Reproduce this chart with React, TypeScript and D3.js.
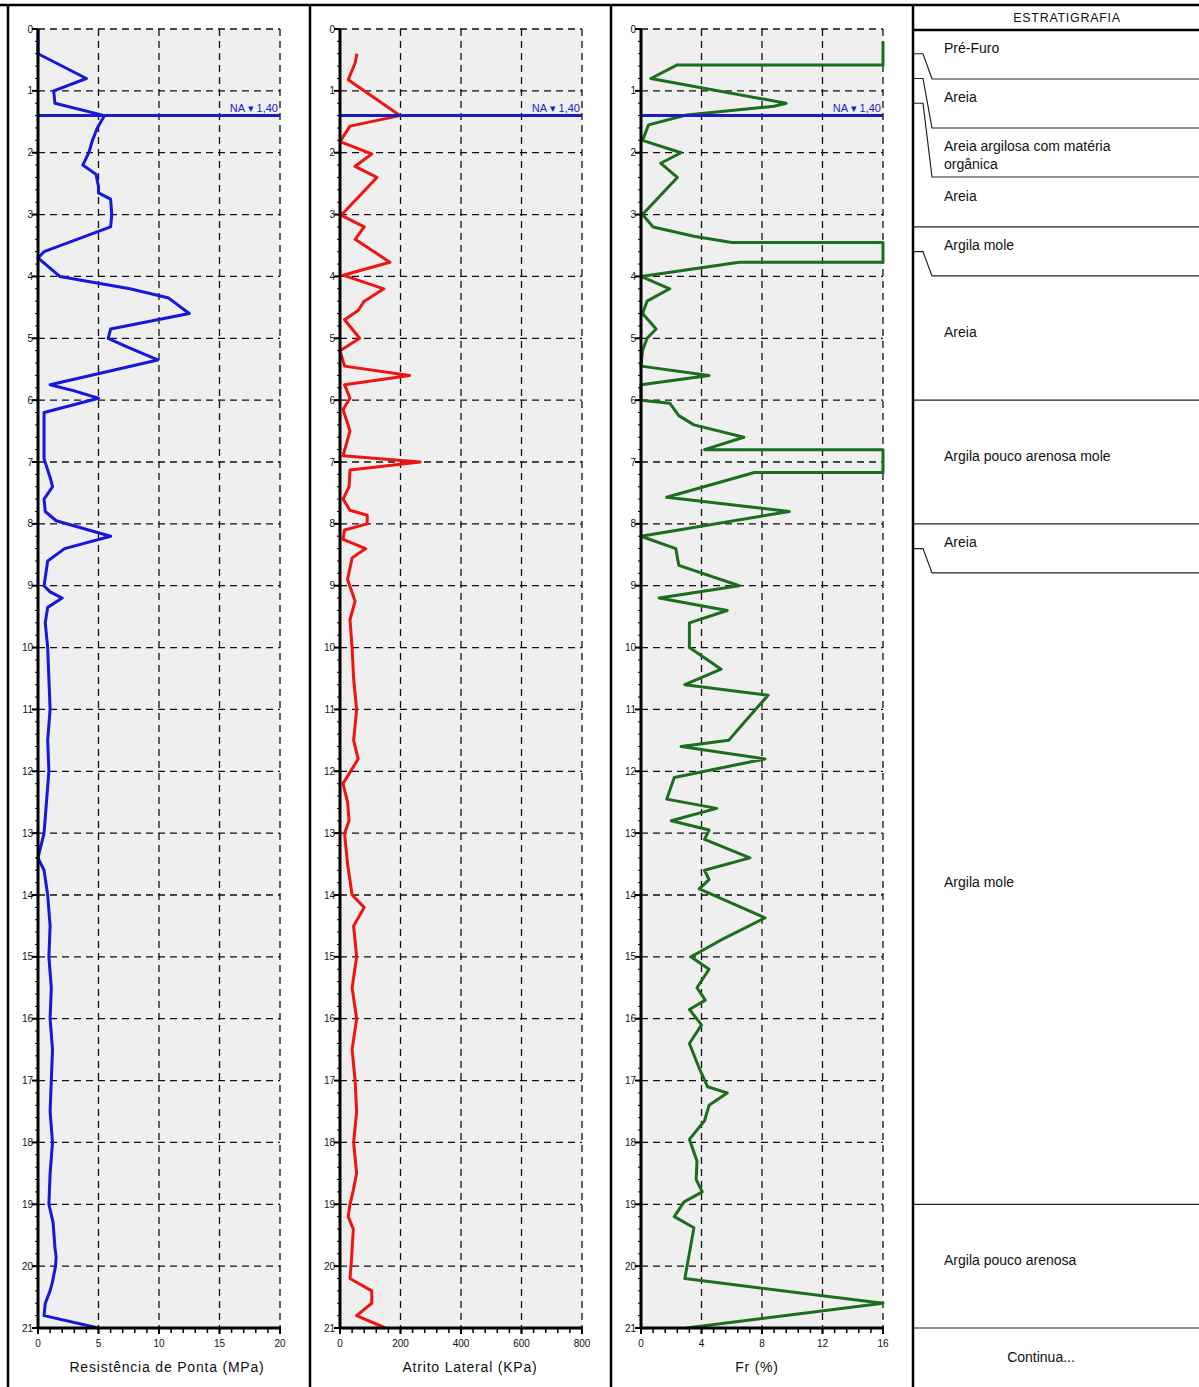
import React from "react";
import * as d3 from "d3";

// ---------- DATA ----------
const qcDepth = [0, 0.4, 0.8, 1.0, 1.2, 1.4, 1.6, 1.8, 2.0, 2.2, 2.35, 2.55, 2.65, 2.75, 3.0, 3.2, 3.6, 3.7, 4.0, 4.2, 4.35, 4.6, 4.85, 5.0, 5.15, 5.35, 5.55, 5.75, 5.85, 5.97, 6.2, 6.95, 7.25, 7.4, 7.6, 7.8, 7.95, 8.2, 8.4, 8.6, 9.0, 9.1, 9.2, 9.35, 9.6, 10.0, 10.5, 11.0, 11.5, 12.0, 12.5, 13.0, 13.4, 13.6, 14.0, 14.5, 15.0, 15.5, 16.0, 16.5, 17.0, 17.5, 18.0, 18.5, 19.0, 19.3, 19.7, 19.85, 20.0, 20.25, 20.4, 20.6, 20.8, 21.0];
const qcValue = [0, 0, 4.0, 1.3, 1.4, 5.5, 4.9, 4.5, 4.2, 3.7, 4.8, 5.0, 5.0, 6.0, 6.1, 6.0, 0.5, 0, 1.8, 7.6, 10.8, 12.5, 6.0, 5.8, 7.5, 9.9, 5.5, 1.0, 3.0, 5.0, 0.5, 0.5, 1.0, 1.2, 0.5, 0.6, 1.5, 6.0, 2.2, 0.8, 0.5, 1.0, 2.0, 0.8, 0.6, 0.8, 0.9, 1.0, 0.8, 0.9, 0.7, 0.5, 0.0, 0.5, 0.8, 1.0, 0.9, 1.1, 1.0, 1.2, 1.1, 1.0, 1.2, 1.0, 0.9, 1.25, 1.4, 1.5, 1.45, 1.2, 1.0, 0.6, 0.5, 5.0];

const fsDepth = [0.4, 0.55, 0.82, 1.4, 1.57, 1.82, 2.02, 2.22, 2.4, 2.66, 2.98, 3.0, 3.2, 3.4, 3.77, 3.98, 4.2, 4.4, 4.55, 4.7, 5.0, 5.2, 5.45, 5.6, 5.75, 5.97, 6.15, 6.5, 6.9, 7.0, 7.13, 7.4, 7.6, 7.78, 7.86, 8.0, 8.1, 8.25, 8.4, 8.55, 8.9, 9.25, 9.55, 10.0, 10.5, 11.0, 11.5, 11.8, 12.2, 12.5, 12.8, 13.0, 13.5, 14.0, 14.2, 14.5, 15.0, 15.5, 16.0, 16.5, 17.0, 17.5, 18.0, 18.5, 18.77, 19.0, 19.2, 19.4, 19.9, 20.2, 20.4, 20.6, 20.8, 21.0];
const fsValue = [56, 50, 27, 198, 33, 0, 105, 50, 122, 72, 10, 0, 80, 50, 165, 10, 145, 80, 60, 15, 65, 0, 15, 230, 15, 33, 10, 33, 10, 265, 33, 30, 10, 33, 90, 90, 15, 10, 85, 40, 25, 50, 33, 40, 45, 55, 45, 60, 10, 25, 30, 15, 25, 40, 80, 45, 55, 40, 55, 40, 50, 55, 45, 55, 44, 33, 27, 44, 38, 33, 105, 105, 55, 150];

const frDepth = [0.2, 0.58, 0.58, 0.8, 1.2, 1.25, 1.39, 1.55, 1.8, 2.0, 2.17, 2.4, 3.0, 3.2, 3.35, 3.45, 3.45, 3.77, 3.77, 4.0, 4.2, 4.4, 4.6, 4.85, 5.0, 5.2, 5.45, 5.6, 5.75, 6.0, 6.05, 6.25, 6.4, 6.6, 6.8, 6.8, 7.17, 7.17, 7.57, 7.8, 8.2, 8.4, 8.67, 9.0, 9.2, 9.4, 9.6, 10.0, 10.35, 10.6, 10.77, 11.3, 11.5, 11.6, 11.8, 12.1, 12.45, 12.6, 12.8, 12.95, 13.1, 13.4, 13.6, 13.75, 13.9, 14.37, 14.7, 15.0, 15.2, 15.5, 15.7, 15.85, 16.1, 16.4, 16.8, 17.1, 17.2, 17.4, 17.65, 17.95, 18.3, 18.6, 18.8, 18.96, 19.2, 19.38, 20.2, 20.6, 21.0];
const frValue = [16, 16, 2.4, 0.65, 9.6, 8.8, 3.0, 0.5, 0.1, 2.65, 1.3, 2.4, 0.1, 0.8, 3.5, 6.0, 16, 16, 6.5, 0, 1.9, 0.4, 0.1, 1.0, 0.4, 0.1, 0, 4.5, 0, 0, 1.9, 2.5, 3.5, 6.8, 4.2, 16, 16, 7.5, 1.7, 9.8, 0, 2.3, 2.5, 6.5, 1.2, 5.7, 3.2, 3.2, 5.3, 2.9, 8.4, 6.5, 5.8, 2.65, 8.2, 2.2, 1.7, 5.0, 2.0, 4.5, 4.2, 7.2, 4.2, 4.5, 3.85, 8.2, 5.5, 3.3, 4.5, 3.7, 4.25, 3.2, 4.0, 3.2, 3.85, 4.4, 5.7, 4.5, 4.2, 3.2, 3.7, 3.65, 4.05, 2.85, 2.2, 3.5, 2.9, 16, 3.0];

const waterDepth = 1.4;
const waterLabel = "NA ▾ 1,40";

const qcTicks = [0, 5, 10, 15, 20];
const fsTicks = [0, 200, 400, 600, 800];
const frTicks = [0, 4, 8, 12, 16];
const depthTicks = d3.range(0, 22, 1);

const strataLabels = [
  ["Pré-Furo"],
  ["Areia"],
  ["Areia argilosa com matéria", "orgânica"],
  ["Areia"],
  ["Argila mole"],
  ["Areia"],
  ["Argila  pouco arenosa mole"],
  ["Areia"],
  ["Argila mole"],
  ["Argila pouco arenosa"],
];
const strataBottom = [0.4, 0.8, 1.2, 3.2, 3.6, 6.0, 8.0, 8.4, 19.0, 21.0];

// ---------- LAYOUT ----------
const W = 1199;
const H = 1387;
const yTop = 29;
const yBot = 1328;
const y = d3.scaleLinear().domain([0, 21]).range([yTop, yBot]);
const plotW = 242;
const font = "'Liberation Sans', Arial, sans-serif";

const panels = [
  { left: 8, titleX: 167, ticks: qcTicks, minor: 1, title: "Resistência de Ponta (MPa)", color: "#1616dc", depth: qcDepth, values: qcValue },
  { left: 310, titleX: 470, ticks: fsTicks, minor: 40, title: "Atrito Lateral (KPa)", color: "#ee1414", depth: fsDepth, values: fsValue },
  { left: 611, titleX: 757, ticks: frTicks, minor: 0.8, title: "Fr (%)", color: "#1b6e1b", depth: frDepth, values: frValue },
];

function Panel({ p }: { p: (typeof panels)[number] }) {
  const x0 = p.left + 30;
  const x1 = x0 + plotW;
  const dom = [p.ticks[0], p.ticks[p.ticks.length - 1]];
  const x = d3.scaleLinear().domain(dom).range([x0, x1]);
  const pts = p.depth.map((d, i) => [p.values[i], d] as [number, number]);
  const line = d3
    .line<[number, number]>()
    .x((d) => x(d[0]))
    .y((d) => y(d[1]));
  const minorX = d3.range(dom[0], dom[1] + p.minor / 2, p.minor);
  const minorY = d3.range(0, 21.01, 0.2);
  return (
    <g>
      <rect x={x0} y={yTop} width={plotW} height={yBot - yTop} fill="#efefef" />
      {depthTicks.slice(0, 21).map((d) => (
        <line key={"h" + d} x1={x0} x2={x1} y1={y(d)} y2={y(d)} stroke="#111" strokeWidth={1.3} strokeDasharray="7,5" />
      ))}
      {p.ticks.slice(1).map((t) => (
        <line key={"v" + t} x1={x(t)} x2={x(t)} y1={yTop} y2={yBot} stroke="#111" strokeWidth={1.3} strokeDasharray="7,5" />
      ))}
      <path d={line(pts) || ""} fill="none" stroke={p.color} strokeWidth={3} strokeLinejoin="round" />
      <line x1={x0} x2={x1} y1={y(waterDepth)} y2={y(waterDepth)} stroke="#1c1cc4" strokeWidth={3} />
      <text x={x1 - 2} y={y(waterDepth) - 4} textAnchor="end" fontFamily={font} fontSize={11} fill="#1c1cc4">
        {waterLabel}
      </text>
      {/* axes */}
      <line x1={x0} x2={x0} y1={yTop} y2={yBot + 1} stroke="#000" strokeWidth={3} />
      <line x1={x0 - 1} x2={x1 + 1} y1={yBot} y2={yBot} stroke="#000" strokeWidth={3} />
      {minorY.map((d, i) => (
        <line key={"my" + i} x1={x0 - 3} x2={x0} y1={y(d)} y2={y(d)} stroke="#000" strokeWidth={1} />
      ))}
      {depthTicks.map((d) => (
        <g key={"yt" + d}>
          <line x1={x0 - 6} x2={x0} y1={y(d)} y2={y(d)} stroke="#000" strokeWidth={2} />
          <text x={x0 - 5} y={y(d)} dy="0.35em" textAnchor="end" fontFamily={font} fontSize={10} fill="#111">
            {d}
          </text>
        </g>
      ))}
      {minorX.map((t, i) => (
        <line key={"mx" + i} x1={x(t)} x2={x(t)} y1={yBot} y2={yBot + 5} stroke="#000" strokeWidth={1.5} />
      ))}
      {p.ticks.map((t) => (
        <g key={"xt" + t}>
          <line x1={x(t)} x2={x(t)} y1={yBot} y2={yBot + 6} stroke="#000" strokeWidth={2} />
          <text x={x(t)} y={yBot + 15} dy="0.35em" textAnchor="middle" fontFamily={font} fontSize={10} fill="#111">
            {t}
          </text>
        </g>
      ))}
      <text x={p.titleX} y={1367} dy="0.35em" textAnchor="middle" fontFamily={font} fontSize={14} letterSpacing={0.8} fill="#111">
        {p.title}
      </text>
    </g>
  );
}

function Strata() {
  const sx = 913;
  const boxes: { top: number; bottom: number; depthY: number }[] = [];
  let top = 30;
  strataBottom.forEach((b) => {
    const dy = y(b);
    const bottom = Math.max(dy, top + 49);
    boxes.push({ top, bottom, depthY: dy });
    top = bottom;
  });
  return (
    <g>
      <text x={1067} y={18} dy="0.35em" textAnchor="middle" fontFamily={font} fontSize={12.5} letterSpacing={0.7} fill="#111">
        ESTRATIGRAFIA
      </text>
      <line x1={sx} x2={W} y1={30} y2={30} stroke="#000" strokeWidth={2.5} />
      {boxes.map((b, i) => {
        const connector = Math.abs(b.bottom - b.depthY) > 1.5;
        return (
          <g key={i}>
            {connector ? (
              <polyline points={`${sx},${b.depthY} ${sx + 10},${b.depthY} ${sx + 19},${b.bottom} ${W},${b.bottom}`} fill="none" stroke="#222" strokeWidth={1.2} />
            ) : (
              <line x1={sx} x2={W} y1={b.bottom} y2={b.bottom} stroke="#222" strokeWidth={1.2} />
            )}
            {strataLabels[i].map((s, k) => (
              <text key={k} x={944} y={(b.top + b.bottom) / 2 - 6 + k * 18} dy="0.35em" fontFamily={font} fontSize={14} fill="#111">
                {s}
              </text>
            ))}
          </g>
        );
      })}
      <text x={1041} y={1357} dy="0.35em" textAnchor="middle" fontFamily={font} fontSize={14} fill="#111">
        Continua...
      </text>
    </g>
  );
}

export default function App() {
  return (
    <svg width={W} height={H} style={{ position: "absolute", left: 0, top: 0, background: "#fff" }}>
      <rect x={0} y={0} width={W} height={H} fill="#fff" />
      {panels.map((p, i) => (
        <Panel key={i} p={p} />
      ))}
      <Strata />
      <line x1={0} x2={W} y1={5} y2={5} stroke="#000" strokeWidth={2.5} />
      {[8, 310, 611, 913].map((vx) => (
        <line key={vx} x1={vx} x2={vx} y1={4} y2={H} stroke="#000" strokeWidth={2.5} />
      ))}
    </svg>
  );
}
